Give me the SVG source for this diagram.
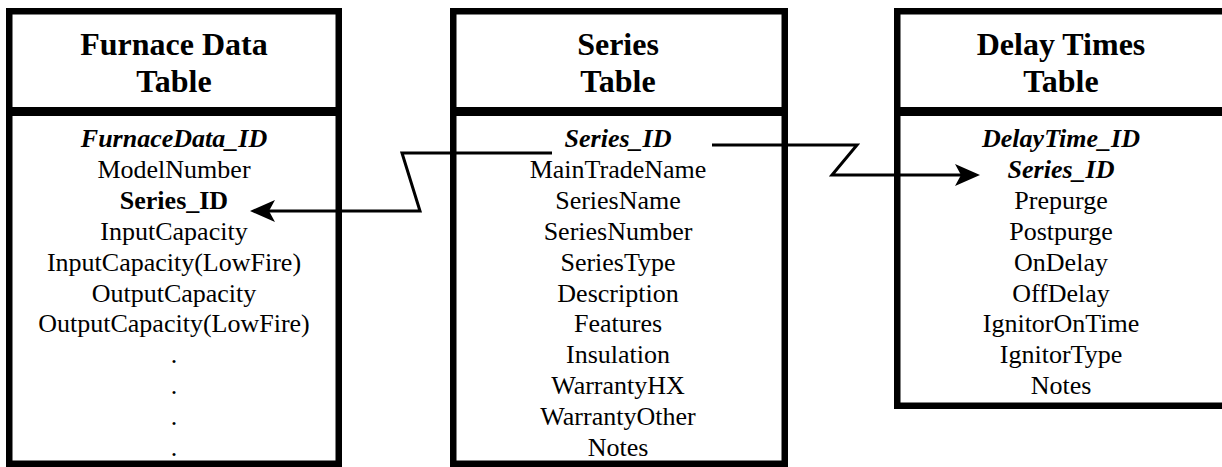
<svg xmlns="http://www.w3.org/2000/svg" width="1222" height="467" viewBox="0 0 1222 467">
<style>
.box{fill:#fff;stroke:#000;stroke-width:6.5}
.sep{fill:#000}
.h{font-family:"Liberation Serif","Times New Roman",serif;font-size:32px;font-weight:bold;text-anchor:middle;fill:#000}
.t{font-family:"Liberation Serif","Times New Roman",serif;font-size:26px;text-anchor:middle;fill:#000}
.k{font-weight:bold;font-style:italic}
.b{font-weight:bold}
.c{fill:none;stroke:#000;stroke-width:3;stroke-linejoin:miter}
</style>
<defs>
<marker id="ah" markerUnits="userSpaceOnUse" markerWidth="26" markerHeight="24" refX="6" refY="12" orient="auto" overflow="visible">
<path d="M25,12 L0,1 L6,12 L0,23 Z" fill="#000"/>
</marker>
</defs>
<rect width="1222" height="467" fill="#fff"/>
<g id="furnace">
<rect class="box" x="9.25" y="11.25" width="329.5" height="452.5"/>
<rect class="sep" x="9" y="107" width="330" height="9"/>
<text class="h" x="174" y="55">Furnace Data</text>
<text class="h" x="174" y="92">Table</text>
<text class="t" x="174" y="147"><tspan class="k" x="174">FurnaceData_ID</tspan><tspan x="174" dy="30.9">ModelNumber</tspan><tspan class="b" x="174" dy="30.9">Series_ID</tspan><tspan x="174" dy="30.9">InputCapacity</tspan><tspan x="174" dy="30.9">InputCapacity(LowFire)</tspan><tspan x="174" dy="30.9">OutputCapacity</tspan><tspan x="174" dy="30.9">OutputCapacity(LowFire)</tspan><tspan x="174" dy="30.9">.</tspan><tspan x="174" dy="30.9">.</tspan><tspan x="174" dy="30.9">.</tspan><tspan x="174" dy="30.9">.</tspan></text>
</g>
<g id="series">
<rect class="box" x="453.25" y="11.25" width="331.5" height="452.5"/>
<rect class="sep" x="453" y="107" width="332" height="9"/>
<text class="h" x="618" y="55">Series</text>
<text class="h" x="618" y="92">Table</text>
<text class="t" x="618" y="147"><tspan class="k" x="618">Series_ID</tspan><tspan x="618" dy="30.9">MainTradeName</tspan><tspan x="618" dy="30.9">SeriesName</tspan><tspan x="618" dy="30.9">SeriesNumber</tspan><tspan x="618" dy="30.9">SeriesType</tspan><tspan x="618" dy="30.9">Description</tspan><tspan x="618" dy="30.9">Features</tspan><tspan x="618" dy="30.9">Insulation</tspan><tspan x="618" dy="30.9">WarrantyHX</tspan><tspan x="618" dy="30.9">WarrantyOther</tspan><tspan x="618" dy="30.9">Notes</tspan></text>
</g>
<g id="delay">
<rect class="box" x="897.25" y="11.25" width="330" height="394.5"/>
<rect class="sep" x="897" y="107" width="330" height="9"/>
<text class="h" x="1061" y="55">Delay Times</text>
<text class="h" x="1061" y="92">Table</text>
<text class="t" x="1061" y="147"><tspan class="k" x="1061">DelayTime_ID</tspan><tspan class="k" x="1061" dy="30.9">Series_ID</tspan><tspan x="1061" dy="30.9">Prepurge</tspan><tspan x="1061" dy="30.9">Postpurge</tspan><tspan x="1061" dy="30.9">OnDelay</tspan><tspan x="1061" dy="30.9">OffDelay</tspan><tspan x="1061" dy="30.9">IgnitorOnTime</tspan><tspan x="1061" dy="30.9">IgnitorType</tspan><tspan x="1061" dy="30.9">Notes</tspan></text>
</g>
<g id="connectors">
<path class="c" d="M552,153 L402,153 L420,211 L269,211" marker-end="url(#ah)"/>
<path class="c" d="M712,145 L857,145 L832,175 L961,175" marker-end="url(#ah)"/>
</g>
</svg>
